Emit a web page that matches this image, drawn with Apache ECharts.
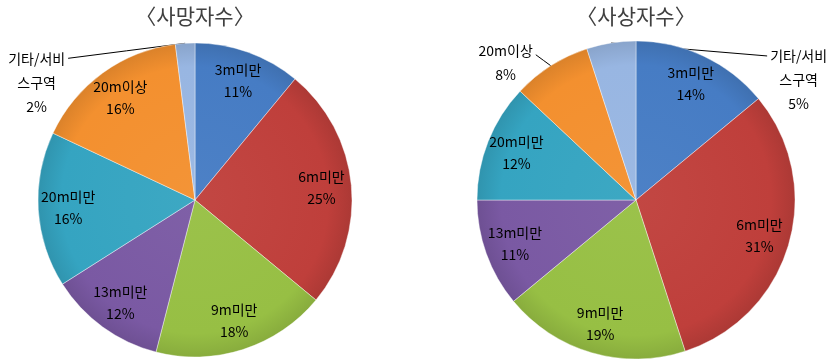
<!DOCTYPE html>
<html><head><meta charset="utf-8">
<script src="https://cdn.jsdelivr.net/npm/echarts@6/dist/echarts.min.js"></script>
<style>html,body{margin:0;padding:0;background:#fff}#c{width:829px;height:361px}</style>
</head><body><div id="c"></div>
<script>
// ---- data ----
const categories = ['3m미만', '6m미만', '9m미만', '13m미만', '20m미만', '20m이상', '기타/서비스구역'];
const deathValues = [11, 25, 18, 12, 16, 16, 2];
const casualtyValues = [14, 31, 19, 11, 12, 8, 5];
const titles = ['〈사망자수〉', '〈사상자수〉'];
const deathOutside = ['기타/서비스구역'];
const casualtyOutside = ['20m이상', '기타/서비스구역'];

// ---- style ----
const colors = ['#467cc4', '#bf3f3b', '#97bf44', '#7a59a3', '#35a4c1', '#f3902f', '#98b6e2'];
const FONT = '"Noto Sans CJK KR", "Noto Sans", sans-serif';

function shade(hex, amt) {
  const n = parseInt(hex.slice(1), 16);
  let r = (n >> 16) & 255, g = (n >> 8) & 255, b = n & 255;
  const f = c => Math.max(0, Math.min(255, Math.round(amt >= 0 ? c + (255 - c) * amt : c * (1 + amt))));
  return 'rgb(' + f(r) + ',' + f(g) + ',' + f(b) + ')';
}
function labelText(name, value) {
  const n = name.length > 6 ? name.slice(0, 5) + '\n' + name.slice(5) : name;
  return n + '\n' + value + '%';
}

const pies = [
  { values: deathValues, outside: deathOutside, center: [195, 200], r: 157,
    offsets: { '기타/서비스구역': { dx: -117, dy: 15, side: 'left', lift: 0 } } },
  { values: casualtyValues, outside: casualtyOutside, center: [636, 200], r: 159,
    offsets: { '20m이상': { dx: -15, dy: -11, side: 'left', lift: 4 },
               '기타/서비스구역': { dx: 156, dy: 13, side: 'right', lift: 0 } } }
];

const series = [];
const title = [];
pies.forEach((p, pi) => {
  title.push({
    text: titles[pi], left: p.center[0], top: 6, textAlign: 'center', padding: 0,
    textStyle: { fontFamily: FONT, fontSize: 21, fontWeight: 'normal', color: '#404040' }
  });
  const data = categories.map((name, i) => ({ name, value: p.values[i] }));
  // visible pie with outside labels
  series.push({
    type: 'pie', center: p.center, radius: [0, p.r], startAngle: 90, clockwise: true,
    avoidLabelOverlap: false, silent: true, animation: false,
    itemStyle: {
      borderColor: 'rgba(255,255,255,0.4)', borderWidth: 1,
      color: params => new echarts.graphic.RadialGradient(p.center[0], p.center[1], p.r, [
        { offset: 0, color: shade(colors[params.dataIndex], 0.04) },
        { offset: 0.85, color: colors[params.dataIndex] },
        { offset: 1, color: shade(colors[params.dataIndex], -0.1) }
      ], true)
    },
    label: {
      show: true, position: 'outside', fontFamily: FONT, fontSize: 14, color: '#000',
      lineHeight: 24, align: 'center',
      formatter: d => labelText(d.name, d.value)
    },
    labelLine: { show: true, length: 5, length2: 20, smooth: false, lineStyle: { color: '#000', width: 1 } },
    labelLayout: params => {
      const name = categories[params.dataIndex];
      const o = p.offsets[name];
      if (!o) return {};
      let p0 = params.labelLinePoints && params.labelLinePoints[0];
      if (!p0) {
        let cum = 0; for (let k = 0; k < params.dataIndex; k++) cum += p.values[k];
        const total = p.values.reduce((a, b) => a + b, 0);
        const ang = (cum + p.values[params.dataIndex] / 2) / total * 2 * Math.PI;
        p0 = [p.center[0] + p.r * Math.sin(ang), p.center[1] - p.r * Math.cos(ang)];
      }
      const end = [p0[0] + o.dx, p0[1] + o.dy];
      const w = params.labelRect.width;
      const x = o.side === 'left' ? end[0] - 3 - w / 2 : end[0] + 3 + w / 2;
      const mid = [(p0[0] + end[0]) / 2, (p0[1] + end[1]) / 2];
      return { x, y: end[1] - 12 - o.lift, align: 'center', verticalAlign: 'top', labelLinePoints: [p0, mid, end] };
    },
    data: data.map(d => p.outside.includes(d.name) ? d : Object.assign({}, d, { label: { show: false }, labelLine: { show: false } }))
  });
  // transparent ring carrying inside labels
  series.push({
    type: 'pie', center: p.center, radius: [p.r * 0.58, p.r], startAngle: 90, clockwise: true,
    avoidLabelOverlap: false, silent: true, animation: false,
    itemStyle: { color: 'rgba(0,0,0,0)' },
    label: {
      show: true, position: 'inside', fontFamily: FONT, fontSize: 14, color: '#000',
      lineHeight: 22, align: 'center',
      formatter: d => d.name + '\n' + d.value + '%'
    },
    labelLine: { show: false },
    data: data.map(d => p.outside.includes(d.name) ? Object.assign({}, d, { label: { show: false } }) : d)
  });
});

const chart = echarts.init(document.getElementById('c'), null, { renderer: 'canvas' });
chart.setOption({ animation: false, backgroundColor: '#fff', title, series });
</script>
</body></html>
